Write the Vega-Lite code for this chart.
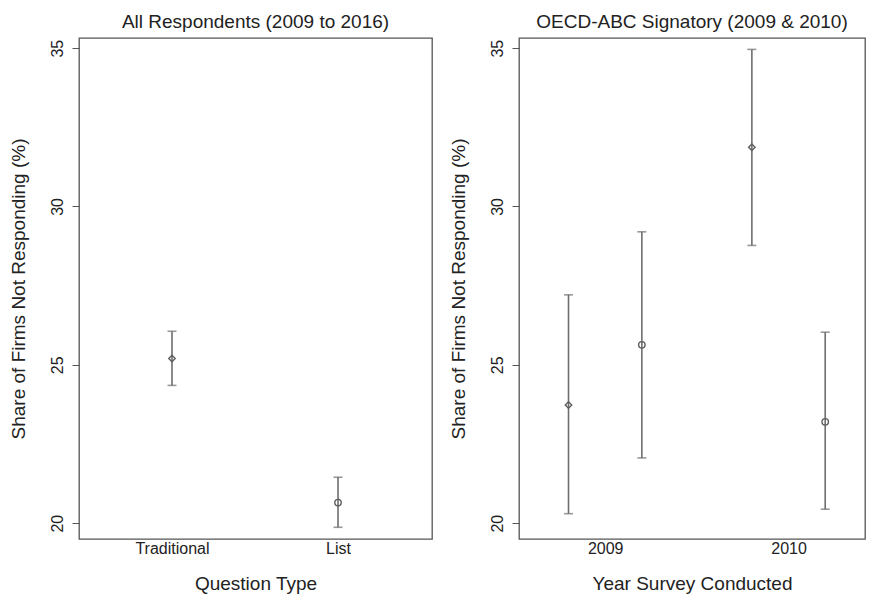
{
  "$schema": "https://vega.github.io/schema/vega-lite/v6.json",
  "background": "white",
  "padding": {"left": 8, "top": 12, "right": 0, "bottom": 0},
  "spacing": 15,
  "config": {
    "font": "Liberation Sans",
    "view": {"stroke": "#555555", "strokeWidth": 1.3},
    "axis": {"grid": false, "labelColor": "#222222", "titleColor": "#222222", "tickColor": "#555555", "domain": false, "labelFontSize": 16, "titleFontSize": 19, "titleFontWeight": "normal"},
    "title": {"fontSize": 19, "fontWeight": "normal", "color": "#222222", "offset": 6}
  },
  "hconcat": [
    {
      "width": 353,
      "height": 501,
      "title": "All Respondents (2009 to 2016)",
      "data": {"values": [
        {"q": 1, "est": 25.2, "lo": 24.35, "hi": 26.06, "shape": "diamond"},
        {"q": 2, "est": 20.65, "lo": 19.87, "hi": 21.45, "shape": "circle"}
      ]},
      "encoding": {
        "x": {"field": "q", "type": "quantitative", "title": "Question Type",
          "scale": {"domain": [0.44, 2.566], "nice": false, "zero": false},
          "axis": {"values": [1, 2], "labelExpr": "datum.value == 1 ? 'Traditional' : 'List'", "ticks": false, "labelPadding": 1, "titlePadding": 18}}
      },
      "layer": [
        {"mark": {"type": "rule", "color": "#6e6e6e", "strokeWidth": 1.6},
         "encoding": {"y": {"field": "lo", "type": "quantitative", "title": "Share of Firms Not Responding (%)",
            "scale": {"domain": [19.5, 35.32], "nice": false, "zero": false},
            "axis": {"values": [20, 25, 30, 35], "labelAngle": -90, "tickSize": 7, "labelPadding": 6.5, "titlePadding": 21.5}},
           "y2": {"field": "hi"}}},
        {"mark": {"type": "tick", "orient": "horizontal", "color": "#6e6e6e", "size": 9, "thickness": 1.6},
         "encoding": {"y": {"field": "lo", "type": "quantitative", "title": "Share of Firms Not Responding (%)"}}},
        {"mark": {"type": "tick", "orient": "horizontal", "color": "#6e6e6e", "size": 9, "thickness": 1.6},
         "encoding": {"y": {"field": "hi", "type": "quantitative", "title": "Share of Firms Not Responding (%)"}}},
        {"mark": {"type": "point", "filled": false, "color": "#5e5e5e", "strokeWidth": 1.4, "size": 42, "opacity": 1},
         "encoding": {"y": {"field": "est", "type": "quantitative", "title": "Share of Firms Not Responding (%)"},
           "shape": {"field": "shape", "type": "nominal", "scale": null}}}
      ]
    },
    {
      "width": 346,
      "height": 501,
      "title": "OECD-ABC Signatory (2009 & 2010)",
      "data": {"values": [
        {"yr": 2008.8, "est": 23.73, "lo": 20.3, "hi": 27.21, "shape": "diamond"},
        {"yr": 2009.2, "est": 25.63, "lo": 22.06, "hi": 29.2, "shape": "circle"},
        {"yr": 2009.8, "est": 31.87, "lo": 28.77, "hi": 34.96, "shape": "diamond"},
        {"yr": 2010.2, "est": 23.2, "lo": 20.44, "hi": 26.03, "shape": "circle"}
      ]},
      "encoding": {
        "x": {"field": "yr", "type": "quantitative", "title": "Year Survey Conducted",
          "scale": {"domain": [2008.53, 2010.417], "nice": false, "zero": false},
          "axis": {"values": [2009, 2010], "format": "d", "ticks": false, "labelPadding": 1, "titlePadding": 18}}
      },
      "layer": [
        {"mark": {"type": "rule", "color": "#6e6e6e", "strokeWidth": 1.6},
         "encoding": {"y": {"field": "lo", "type": "quantitative", "title": "Share of Firms Not Responding (%)",
            "scale": {"domain": [19.5, 35.32], "nice": false, "zero": false},
            "axis": {"values": [20, 25, 30, 35], "labelAngle": -90, "tickSize": 7, "labelPadding": 6.5, "titlePadding": 21.5}},
           "y2": {"field": "hi"}}},
        {"mark": {"type": "tick", "orient": "horizontal", "color": "#6e6e6e", "size": 9, "thickness": 1.6},
         "encoding": {"y": {"field": "lo", "type": "quantitative", "title": "Share of Firms Not Responding (%)"}}},
        {"mark": {"type": "tick", "orient": "horizontal", "color": "#6e6e6e", "size": 9, "thickness": 1.6},
         "encoding": {"y": {"field": "hi", "type": "quantitative", "title": "Share of Firms Not Responding (%)"}}},
        {"mark": {"type": "point", "filled": false, "color": "#5e5e5e", "strokeWidth": 1.4, "size": 42, "opacity": 1},
         "encoding": {"y": {"field": "est", "type": "quantitative", "title": "Share of Firms Not Responding (%)"},
           "shape": {"field": "shape", "type": "nominal", "scale": null}}}
      ]
    }
  ]
}
